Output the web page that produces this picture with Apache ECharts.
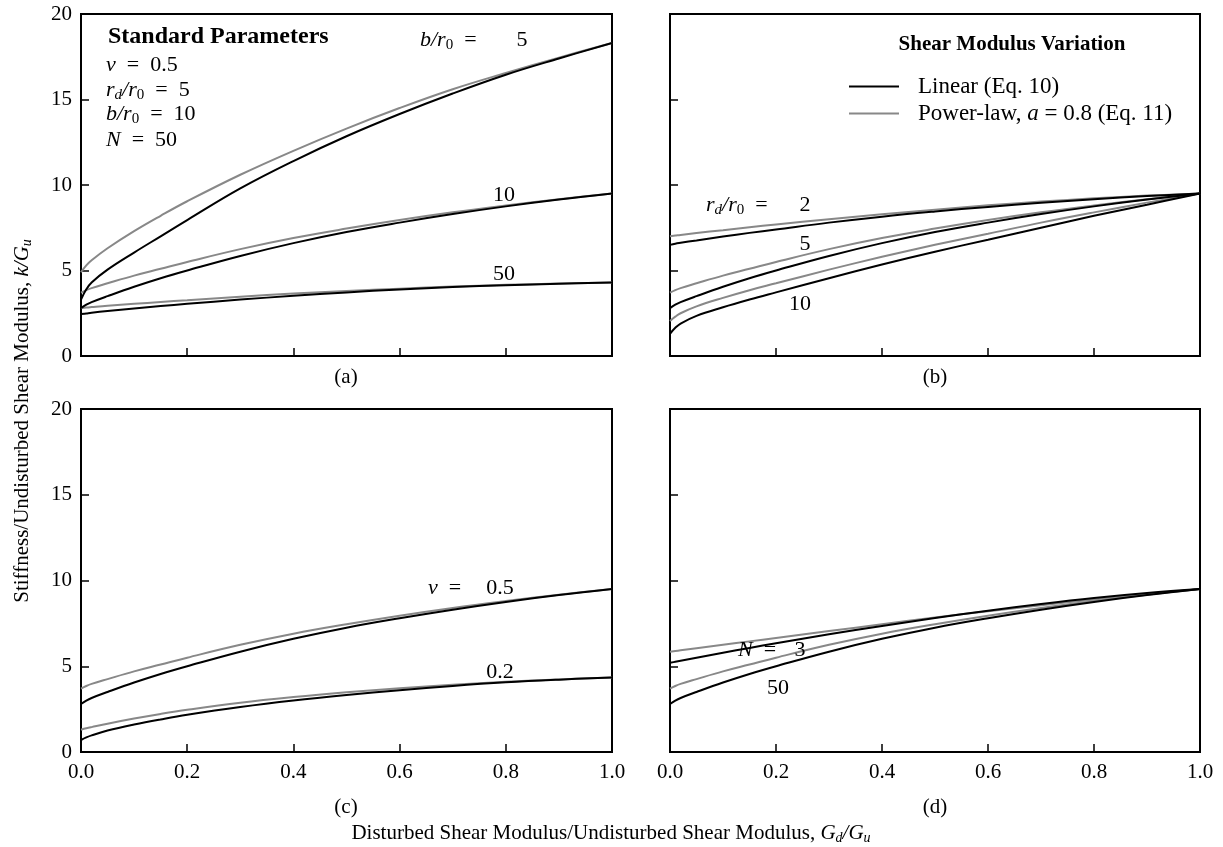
<!DOCTYPE html>
<html>
<head>
<meta charset="utf-8">
<script src="https://cdn.jsdelivr.net/npm/echarts@6/dist/echarts.min.js"></script>
<style>
  html, body { margin: 0; padding: 0; background: #fff; }
  #main { width: 1223px; height: 847px; }
</style>
</head>
<body>
<div id="main"></div>
<script>
// x values shared by all curves: Gd/Gu
var gdRatio = [0, 0.01, 0.02, 0.05, 0.1, 0.15, 0.2, 0.3, 0.4, 0.5, 0.6, 0.7, 0.8, 0.9, 1.0];

// standard parameters (nu=0.5, rd/r0=5, b/r0=10, N=50)
var stdLinear = [2.8, 3.0, 3.15, 3.5, 4.05, 4.55, 5.0, 5.85, 6.6, 7.25, 7.8, 8.3, 8.75, 9.15, 9.5];
var stdPower  = [3.7, 3.85, 3.97, 4.25, 4.7, 5.1, 5.5, 6.25, 6.9, 7.45, 7.95, 8.4, 8.8, 9.17, 9.5];

// (a) b/r0
var b5Linear  = [3.3, 3.9, 4.3, 5.05, 6.05, 7.0, 7.95, 9.8, 11.4, 12.85, 14.15, 15.35, 16.45, 17.4, 18.3];
var b5Power   = [4.9, 5.3, 5.6, 6.3, 7.3, 8.2, 9.05, 10.6, 12.0, 13.3, 14.5, 15.6, 16.55, 17.45, 18.3];
var b50Linear = [2.45, 2.49, 2.53, 2.63, 2.78, 2.92, 3.05, 3.3, 3.52, 3.72, 3.89, 4.03, 4.14, 4.23, 4.3];
var b50Power  = [2.8, 2.83, 2.86, 2.94, 3.05, 3.16, 3.26, 3.47, 3.65, 3.8, 3.94, 4.06, 4.16, 4.24, 4.3];

// (b) rd/r0
var rd2Linear  = [6.5, 6.57, 6.62, 6.76, 6.99, 7.2, 7.4, 7.8, 8.15, 8.45, 8.72, 8.96, 9.17, 9.35, 9.5];
var rd2Power   = [7.0, 7.04, 7.08, 7.19, 7.36, 7.53, 7.69, 8.0, 8.29, 8.56, 8.81, 9.03, 9.22, 9.38, 9.5];
var rd10Linear = [1.3, 1.65, 1.9, 2.35, 2.85, 3.3, 3.72, 4.55, 5.35, 6.1, 6.8, 7.5, 8.2, 8.85, 9.5];
var rd10Power  = [2.05, 2.3, 2.5, 2.9, 3.4, 3.85, 4.25, 5.05, 5.8, 6.5, 7.15, 7.8, 8.4, 8.97, 9.5];

// (c) nu
var nu02Linear = [0.7, 0.85, 0.97, 1.25, 1.6, 1.9, 2.17, 2.62, 3.0, 3.32, 3.6, 3.85, 4.06, 4.22, 4.35];
var nu02Power  = [1.3, 1.38, 1.45, 1.65, 1.95, 2.22, 2.46, 2.87, 3.2, 3.48, 3.72, 3.92, 4.09, 4.23, 4.35];

// (d) N
var n3Linear = [5.2, 5.26, 5.32, 5.5, 5.79, 6.07, 6.34, 6.86, 7.35, 7.81, 8.24, 8.63, 8.98, 9.27, 9.5];
var n3Power  = [5.85, 5.89, 5.93, 6.05, 6.25, 6.45, 6.65, 7.05, 7.45, 7.84, 8.21, 8.56, 8.89, 9.2, 9.5];

var xTicks = ['0.0', '0.2', '0.4', '0.6', '0.8', '1.0'];

var LINEAR = 'Linear (Eq. 10)';
var POWER = 'Power-law, a = 0.8 (Eq. 11)';
var FONT = 'Liberation Serif';

var myChart = echarts.init(document.getElementById('main'));

var grids = [
  { left: 81, top: 14, width: 531, height: 342 },
  { left: 670, top: 14, width: 530, height: 342 },
  { left: 81, top: 409, width: 531, height: 343 },
  { left: 670, top: 409, width: 530, height: 343 }
];

function pairs(ys) {
  return gdRatio.map(function (x, i) { return [x, ys[i]]; });
}

function curve(g, ys, name) {
  var col = name === LINEAR ? '#000' : '#888';
  return {
    type: 'line',
    name: name,
    xAxisIndex: g,
    yAxisIndex: g,
    data: pairs(ys),
    showSymbol: false,
    symbol: 'none',
    smooth: 0.4,
    silent: true,
    z: name === LINEAR ? 3 : 2,
    lineStyle: { color: col, width: 2 },
    itemStyle: { color: col }
  };
}

var xAxes = grids.map(function (gr, g) {
  return {
    type: 'value', gridIndex: g, min: 0, max: 1, interval: 0.2,
    axisLine: { show: true, lineStyle: { color: '#000', width: 2 } },
    axisTick: { show: true, inside: true, length: 8, lineStyle: { color: '#000', width: 1.5 } },
    axisLabel: {
      show: g >= 2, margin: 10, color: '#000', fontFamily: FONT, fontSize: 21,
      formatter: function (v) { return xTicks[Math.round(v / 0.2)]; }
    },
    splitLine: { show: false }
  };
});

var yAxes = grids.map(function (gr, g) {
  return {
    type: 'value', gridIndex: g, min: 0, max: 20, interval: 5,
    axisLine: { show: true, lineStyle: { color: '#000', width: 2 } },
    axisTick: { show: true, inside: true, length: 8, lineStyle: { color: '#000', width: 1.5 } },
    axisLabel: { show: g % 2 === 0, margin: 9, color: '#000', fontFamily: FONT, fontSize: 21 },
    splitLine: { show: false }
  };
});

var series = [
  curve(0, b5Power, POWER), curve(0, b5Linear, LINEAR),
  curve(0, stdPower, POWER), curve(0, stdLinear, LINEAR),
  curve(0, b50Power, POWER), curve(0, b50Linear, LINEAR),
  curve(1, rd2Power, POWER), curve(1, rd2Linear, LINEAR),
  curve(1, stdPower, POWER), curve(1, stdLinear, LINEAR),
  curve(1, rd10Power, POWER), curve(1, rd10Linear, LINEAR),
  curve(2, stdPower, POWER), curve(2, stdLinear, LINEAR),
  curve(2, nu02Power, POWER), curve(2, nu02Linear, LINEAR),
  curve(3, n3Power, POWER), curve(3, n3Linear, LINEAR),
  curve(3, stdPower, POWER), curve(3, stdLinear, LINEAR)
];

// rich text styles for math-ish labels
var rich = {
  n: { fontFamily: FONT, fontSize: 22, lineHeight: 26, color: '#000' },
  i: { fontFamily: FONT, fontSize: 22, fontStyle: 'italic', lineHeight: 26, color: '#000' },
  si: { fontFamily: FONT, fontSize: 15, fontStyle: 'italic', lineHeight: 17, padding: [10, 0, 0, 0], color: '#000' },
  s0: { fontFamily: FONT, fontSize: 15, lineHeight: 17, padding: [10, 0, 0, 0], color: '#000' },
  b: { fontFamily: FONT, fontSize: 24, fontWeight: 'bold', lineHeight: 26, color: '#000' },
  t: { fontFamily: FONT, fontSize: 21, fontWeight: 'bold', lineHeight: 24, color: '#000' },
  m: { fontFamily: FONT, fontSize: 21, lineHeight: 24, color: '#000' },
  mi: { fontFamily: FONT, fontSize: 21, fontStyle: 'italic', lineHeight: 24, color: '#000' },
  ms: { fontFamily: FONT, fontSize: 14, fontStyle: 'italic', lineHeight: 16, padding: [10, 0, 0, 0], color: '#000' }
};

function txt(x, y, text, align, extra) {
  var o = {
    type: 'text', x: x, y: y, silent: true, z: 10,
    style: {
      text: text, rich: rich, fill: '#000', font: '20px "Liberation Serif"',
      align: align || 'left', verticalAlign: 'middle'
    }
  };
  if (extra) { for (var k in extra) o[k] = extra[k]; }
  return o;
}

var graphics = [
  // standard parameters box
  txt(108, 37, '{b|Standard Parameters}'),
  txt(106, 65, '{i|ν}{n|  =  0.5}'),
  txt(106, 90, '{i|r}{si|d}{i|/r}{s0|0}{n|  =  5}'),
  txt(106, 114, '{i|b/r}{s0|0}{n|  =  10}'),
  txt(106, 140, '{i|N}{n|  =  50}'),
  // (a) curve labels
  txt(420, 40, '{i|b/r}{s0|0}{n|  =}'),
  txt(522, 40, '{n|5}', 'center'),
  txt(504, 195, '{n|10}', 'center'),
  txt(504, 274, '{n|50}', 'center'),
  // (b) curve labels
  txt(706, 205, '{i|r}{si|d}{i|/r}{s0|0}{n|  =}'),
  txt(805, 205, '{n|2}', 'center'),
  txt(805, 244, '{n|5}', 'center'),
  txt(800, 304, '{n|10}', 'center'),
  // legend title
  txt(1012, 45, '{t|Shear Modulus Variation}', 'center'),
  // (c) curve labels
  txt(428, 588, '{i|ν}{n|  =}'),
  txt(500, 588, '{n|0.5}', 'center'),
  txt(500, 672, '{n|0.2}', 'center'),
  // (d) curve labels
  txt(738, 650, '{i|N}{n|  =}'),
  txt(800, 650, '{n|3}', 'center'),
  txt(778, 688, '{n|50}', 'center'),
  // panel letters
  txt(346, 377, '{m|(a)}', 'center'),
  txt(935, 377, '{m|(b)}', 'center'),
  txt(346, 807, '{m|(c)}', 'center'),
  txt(935, 807, '{m|(d)}', 'center'),
  // axis titles
  txt(611, 833, '{m|Disturbed Shear Modulus/Undisturbed Shear Modulus, }{mi|G}{ms|d}{mi|/G}{ms|u}', 'center'),
  txt(22, 421, '{m|Stiffness/Undisturbed Shear Modulus, }{mi|k/G}{ms|u}', 'center', { rotation: Math.PI / 2 })
];

myChart.setOption({
  backgroundColor: '#fff',
  animation: false,
  textStyle: { fontFamily: FONT },
  grid: grids.map(function (gr) {
    return {
      left: gr.left, top: gr.top, width: gr.width, height: gr.height,
      show: true, borderColor: '#000', borderWidth: 2, backgroundColor: 'transparent'
    };
  }),
  xAxis: xAxes,
  yAxis: yAxes,
  legend: {
    show: true,
    orient: 'vertical',
    left: 844,
    top: 70,
    icon: 'rect',
    itemWidth: 50,
    itemHeight: 2,
    itemGap: 4,
    selectedMode: false,
    data: [LINEAR, POWER],
    formatter: function (name) {
      if (name === POWER) return '{n|Power-law, }{i|a}{n| = 0.8 (Eq. 11)}';
      return '{n|' + name + '}';
    },
    textStyle: {
      color: '#000', fontFamily: FONT, fontSize: 23, padding: [0, 0, 0, 14],
      rich: {
        n: { fontFamily: FONT, fontSize: 23, color: '#000' },
        i: { fontFamily: FONT, fontSize: 23, fontStyle: 'italic', color: '#000' }
      }
    }
  },
  graphic: graphics,
  series: series
});

window.PieChart = myChart;
</script>
</body>
</html>
